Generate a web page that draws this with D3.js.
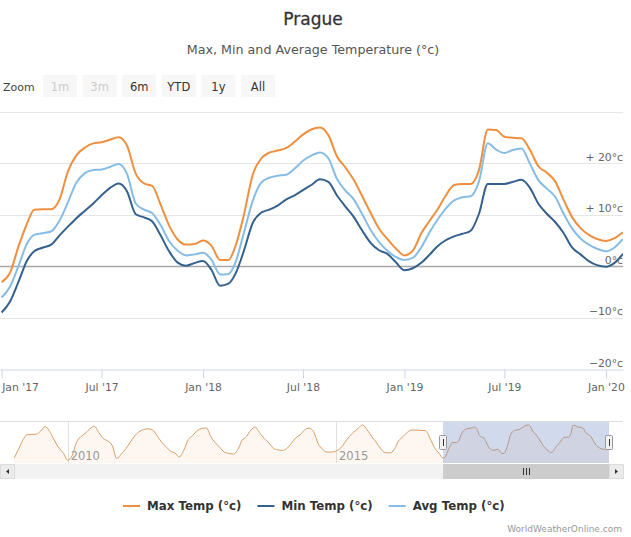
<!DOCTYPE html>
<html>
<head>
<meta charset="utf-8">
<script src="https://cdn.jsdelivr.net/npm/d3@7"></script>
<style>
  body { margin: 0; background: #fff; }
  svg { font-family: "DejaVu Sans", sans-serif; }
</style>
</head>
<body>
<script>
// half-monthly readings shown in the main chart
let dates = [
  '2017-01-01','2017-01-16','2017-02-01','2017-02-16','2017-03-01','2017-03-16','2017-04-01','2017-04-16',
  '2017-05-01','2017-05-16','2017-06-01','2017-06-16','2017-07-01','2017-07-16','2017-08-01','2017-08-16',
  '2017-09-01','2017-09-16','2017-10-01','2017-10-16','2017-11-01','2017-11-16','2017-12-01','2017-12-16',
  '2018-01-01','2018-01-16','2018-02-01','2018-02-16','2018-03-01','2018-03-16','2018-04-01','2018-04-16',
  '2018-05-01','2018-05-16','2018-06-01','2018-06-16','2018-07-01','2018-07-16','2018-08-01','2018-08-16',
  '2018-09-01','2018-09-16','2018-10-01','2018-10-16','2018-11-01','2018-11-16','2018-12-01','2018-12-16',
  '2019-01-01','2019-01-16','2019-02-01','2019-02-16','2019-03-01','2019-03-16','2019-04-01','2019-04-16',
  '2019-05-01','2019-05-16','2019-06-01','2019-06-16','2019-07-01','2019-07-16','2019-08-01','2019-08-16',
  '2019-09-01','2019-09-16','2019-10-01','2019-10-16','2019-11-01','2019-11-16','2019-12-01','2019-12-16',
  '2020-01-01','2020-01-16','2020-02-01'
];
let maxTemp = [
  -3.1, -1.3, 4.0, 8.3, 11.0, 11.1, 11.1, 13.0, 18.4, 21.5,
  23.1, 23.9, 24.1, 24.6, 25.1, 23.5, 18.0, 16.1, 15.6, 12.0,
  7.8, 5.2, 4.2, 4.3, 5.0, 4.0, 1.2, 1.2, 4.0, 10.0,
  17.8, 20.9, 22.1, 22.5, 23.0, 24.2, 25.6, 26.6, 27.0, 25.5,
  21.3, 19.2, 16.8, 13.7, 10.3, 7.3, 5.3, 3.5, 2.1, 3.0,
  6.5, 8.9, 10.9, 13.6, 15.8, 16.0, 16.0, 18.7, 26.6, 26.5,
  25.2, 25.0, 24.9, 22.7, 19.4, 18.2, 16.5, 13.0, 9.5, 7.4,
  6.1, 5.3, 4.9, 5.4, 6.6
];
let minTemp = [
  -9.0, -6.9, -2.9, 1.1, 2.9, 3.6, 4.2, 6.0, 7.7, 9.3,
  10.8, 12.2, 13.8, 15.2, 16.1, 14.6, 10.1, 9.5, 8.7, 6.0,
  2.8, 0.7, 0.1, 0.6, 1.0, -0.7, -3.8, -3.4, -1.4, 3.0,
  8.4, 10.4, 11.0, 11.8, 13.0, 13.8, 14.8, 15.8, 16.9, 16.4,
  13.7, 11.6, 9.6, 7.0, 4.5, 3.1, 2.4, 0.8, -0.8, -0.4,
  0.7, 2.3, 3.8, 5.0, 5.8, 6.3, 6.9, 10.2, 16.0, 16.0,
  16.0, 16.4, 16.8, 15.3, 12.1, 10.2, 8.6, 6.5, 3.6, 2.3,
  1.0, 0.2, -0.1, 0.6, 2.4
];
let avgTemp = [
  -6.1, -4.0, 0.2, 4.4, 6.1, 6.4, 6.8, 8.9, 12.4, 16.2,
  18.1, 18.7, 18.8, 19.3, 19.9, 18.0, 12.2, 11.0, 10.3, 8.0,
  4.8, 3.0, 2.1, 2.3, 2.6, 1.3, -1.6, -1.5, 0.8, 6.5,
  12.7, 16.2, 17.2, 17.6, 17.8, 19.0, 20.5, 21.5, 22.1, 21.0,
  16.9, 14.7, 13.0, 10.2, 7.0, 4.7, 3.0, 1.8, 1.2, 1.6,
  3.8, 6.7, 8.9, 11.1, 12.8, 13.4, 13.6, 16.5, 23.9, 22.7,
  22.0, 22.6, 22.9, 20.0, 16.7, 15.1, 13.5, 10.3, 7.3, 5.4,
  4.2, 3.4, 2.9, 3.6, 5.3
];

// monthly max temp before 2017, only seen in the navigator
let navYears = [2009, 2010, 2011, 2012, 2013, 2014, 2015, 2016];
let navMaxEarly = [
  [-3.0, 5.0, 13.0, 18.3, 18.4, 18.7, 21.5, 25.6, 21.0, 13.5, 6.5, 2.0],
  [-4.7, -0.5, 11.0, 16.5, 19.5, 23.5, 25.9, 20.2, 14.6, 12.5, 8.3, -3.3],
  [0.8, 5.6, 11.0, 17.0, 20.8, 23.0, 23.5, 22.6, 17.4, 11.7, 7.5, 3.3],
  [1.6, -2.0, 4.2, 13.8, 17.5, 22.0, 23.8, 24.4, 16.5, 11.0, 6.7, 2.5],
  [1.3, 0.8, 4.0, 13.0, 16.5, 22.5, 25.0, 19.5, 14.7, 10.8, 6.0, 4.5],
  [4.0, 5.8, 10.0, 15.2, 18.0, 22.5, 24.2, 21.0, 10.2, 5.0, 2.5, 2.5],
  [3.5, 6.0, 11.0, 16.5, 20.5, 24.0, 27.0, 22.5, 16.5, 11.5, 5.5, 2.0],
  [1.7, 4.8, 12.5, 16.5, 20.5, 22.5, 22.4, 22.1, 21.9, 15.0, 6.5, 1.5]
];

let xTicks = ['2017-01-01', '2017-07-01', '2018-01-01', '2018-07-01', '2019-01-01', '2019-07-01', '2020-01-01'];
let navTicks = ['2010-01-01', '2015-01-01'];
let yGrid = [-20, -10, 0, 10, 20, 30];
let yTicks = [-20, -10, 0, 10, 20];
let yTickLabels = ['\u221220°c', '\u221210°c', '0°c', '+ 10°c', '+ 20°c'];
let zoomButtons = ['1m', '3m', '6m', 'YTD', '1y', 'All'];
let disabledButtons = ['1m', '3m'];
let seriesNames = ['Max Temp (°c)', 'Min Temp (°c)', 'Avg Temp (°c)'];
let seriesColors = ['#ef8f3f', '#35618e', '#87bde5'];

let parse = d3.timeParse('%Y-%m-%d');
let plot = {left: 0, right: 623, top: 112, bottom: 369};
let nav = {left: 14, right: 609, top: 422, bottom: 463};
let range = [parse('2016-12-29'), parse('2020-02-01')];

let svg = d3.select('body').append('svg')
  .attr('width', 631)
  .attr('height', 537);

let x = d3.scaleTime().domain(range).range([plot.left, plot.right]);
let y = d3.scaleLinear().domain([-20, 30]).range([plot.bottom, plot.top]);

// titles
svg.append('text')
  .attr('x', 313).attr('y', 25)
  .attr('text-anchor', 'middle')
  .style('font-size', '17px').style('fill', '#333')
  .style('stroke', '#333').style('stroke-width', 0.3)
  .text('Prague');
svg.append('text')
  .attr('x', 313).attr('y', 54)
  .attr('text-anchor', 'middle')
  .style('font-size', '12.7px').style('fill', '#555')
  .text('Max, Min and Average Temperature (°c)');

// range selector
svg.append('text')
  .attr('x', 3).attr('y', 90.5)
  .style('font-size', '11px').style('fill', '#444')
  .text('Zoom');
let btn = svg.append('g').selectAll('g')
  .data(zoomButtons)
  .enter().append('g')
  .attr('transform', (d, i) => 'translate(' + (43 + i * 39.6) + ',75)');
btn.append('rect')
  .attr('width', 34).attr('height', 22)
  .attr('fill', '#f7f7f7');
btn.append('text')
  .attr('x', 17).attr('y', 15.5)
  .attr('text-anchor', 'middle')
  .style('font-size', '11.5px')
  .style('fill', d => disabledButtons.includes(d) ? '#ccc' : '#333')
  .text(d => d);

// grid
let g = svg.append('g');
g.append('g')
  .selectAll('line')
  .data(yGrid)
  .enter().append('line')
  .attr('x1', plot.left).attr('x2', plot.right)
  .attr('y1', d => Math.round(y(d)) + 0.5).attr('y2', d => Math.round(y(d)) + 0.5)
  .attr('stroke', d => d === 0 ? '#a8a8a8' : (d === -20 ? 'none' : '#e6e6e6'))
  .attr('stroke-width', d => d === 0 ? 1.5 : 1);

// x axis
let xAxis = g.append('g')
  .attr('transform', 'translate(0,' + (plot.bottom + 0.5) + ')')
  .call(d3.axisBottom(x)
    .tickValues(xTicks.map(parse))
    .tickFormat(d3.timeFormat("%b '%y"))
    .tickSize(9)
    .tickSizeOuter(0)
    .tickPadding(5));
xAxis.select('.domain').attr('stroke', '#ccd6eb');
xAxis.selectAll('.tick line').attr('stroke', '#ccd6eb');
xAxis.selectAll('.tick text')
  .style('font-size', '10.8px')
  .style('font-family', '"DejaVu Sans", sans-serif')
  .attr('fill', '#666');
xAxis.selectAll('.tick text').each(function () {
  let t = d3.select(this);
  let w = this.getComputedTextLength();
  let tx = +d3.select(this.parentNode).attr('transform').match(/translate\(([-\d.]+)/)[1];
  if (tx - w / 2 < 0) t.attr('text-anchor', 'start');
  if (tx + w / 2 > 625) t.attr('text-anchor', 'end').attr('x', 625 - tx);
});

// series
svg.append('clipPath').attr('id', 'plotclip')
  .append('rect')
  .attr('x', plot.left).attr('y', plot.top - 5)
  .attr('width', plot.right - plot.left).attr('height', plot.bottom - plot.top + 10);

let line = d3.line()
  .curve(d3.curveMonotoneX)
  .x(d => x(d.date))
  .y(d => y(d.value));

let seriesValues = [maxTemp, minTemp, avgTemp];
let trace = svg.append('g').attr('clip-path', 'url(#plotclip)');
seriesValues.forEach((vals, i) => {
  let pts = dates.map((d, j) => ({date: parse(d), value: vals[j]}));
  trace.append('path')
    .attr('d', line(pts))
    .attr('fill', 'none')
    .attr('stroke', seriesColors[i])
    .attr('stroke-width', 2)
    .attr('stroke-linejoin', 'round');
});

// y labels, inside the plot on the right
svg.append('g')
  .selectAll('text')
  .data(yTicks)
  .enter().append('text')
  .attr('x', 623).attr('y', d => y(d) - 2.5)
  .attr('text-anchor', 'end')
  .style('font-size', '10.8px').style('fill', '#666')
  .text((d, i) => yTickLabels[i]);

// navigator
let navData = [];
navYears.forEach((yr, i) => {
  navMaxEarly[i].forEach((v, m) => navData.push({date: new Date(yr, m, 1), value: v}));
});
dates.forEach((d, j) => navData.push({date: parse(d), value: maxTemp[j]}));

let nx = d3.scaleTime().domain([new Date(2009, 0, 1), range[1]]).range([nav.left, nav.right]);
let ny = d3.scaleLinear().domain(d3.extent(navData, d => d.value)).range([460, 425]);

let ng = svg.append('g');
ng.append('line')
  .attr('x1', 0).attr('x2', 623)
  .attr('y1', nav.top - 0.5).attr('y2', nav.top - 0.5)
  .attr('stroke', '#dcdcdc');
ng.selectAll('.navgrid')
  .data(navTicks)
  .enter().append('line')
  .attr('x1', d => Math.round(nx(parse(d))) + 0.5).attr('x2', d => Math.round(nx(parse(d))) + 0.5)
  .attr('y1', nav.top).attr('y2', nav.bottom)
  .attr('stroke', '#e0e0e0');

let navArea = d3.area()
  .curve(d3.curveMonotoneX)
  .x(d => nx(d.date))
  .y0(nav.bottom)
  .y1(d => ny(d.value));
let navLine = d3.line()
  .curve(d3.curveMonotoneX)
  .x(d => nx(d.date))
  .y(d => ny(d.value));

ng.append('path')
  .attr('d', navArea(navData))
  .attr('fill', 'rgba(245,160,90,0.09)');
ng.append('path')
  .attr('d', navLine(navData))
  .attr('fill', 'none')
  .attr('stroke', '#d99f66')
  .attr('stroke-width', 1);

ng.selectAll('.navlabel')
  .data(navTicks)
  .enter().append('text')
  .attr('x', d => nx(parse(d)) + 3).attr('y', 460)
  .style('font-size', '11.5px').style('fill', '#999')
  .text(d => d.slice(0, 4));

// selected range mask and handles
let m0 = nx(range[0]), m1 = nx(range[1]);
ng.append('rect')
  .attr('x', m0).attr('y', nav.top)
  .attr('width', m1 - m0).attr('height', nav.bottom - nav.top)
  .attr('fill', 'rgba(102,133,194,0.3)');
[m0, m1].forEach(hx => {
  ng.append('rect')
    .attr('x', Math.round(hx) - 3.5).attr('y', 435.5)
    .attr('width', 7).attr('height', 14).attr('rx', 1)
    .attr('fill', '#f2f2f2').attr('stroke', '#999');
  ng.append('line')
    .attr('x1', Math.round(hx) + 0.5).attr('x2', Math.round(hx) + 0.5)
    .attr('y1', 439).attr('y2', 446)
    .attr('stroke', '#333');
});

// scrollbar
let sb = svg.append('g').attr('transform', 'translate(0,464)');
sb.append('rect')
  .attr('x', 0).attr('y', 0).attr('width', 623).attr('height', 15)
  .attr('fill', '#f2f2f2');
sb.append('rect')
  .attr('x', m0).attr('y', 0).attr('width', m1 - m0).attr('height', 15)
  .attr('fill', '#cccccc');
let gx = Math.round((m0 + m1) / 2);
[-3, 0, 3].forEach(o => {
  sb.append('line')
    .attr('x1', gx + o + 0.5).attr('x2', gx + o + 0.5)
    .attr('y1', 4).attr('y2', 11)
    .attr('stroke', '#333');
});
[[0, -1], [nav.right, 1]].forEach(([bx, dir]) => {
  sb.append('rect')
    .attr('x', bx + 0.5).attr('y', 0.5).attr('width', 14).attr('height', 14)
    .attr('fill', '#ebebeb').attr('stroke', '#dddddd');
  let cx = bx + 7.5;
  sb.append('path')
    .attr('d', dir < 0
      ? 'M' + (cx + 1.5) + ',5 L' + (cx - 1.5) + ',7.5 L' + (cx + 1.5) + ',10 Z'
      : 'M' + (cx - 1.5) + ',5 L' + (cx + 1.5) + ',7.5 L' + (cx - 1.5) + ',10 Z')
    .attr('fill', '#333');
});

// legend
let legend = svg.append('g');
let lx = 0;
seriesNames.forEach((name, i) => {
  let item = legend.append('g').attr('transform', 'translate(' + lx + ',0)');
  item.append('line')
    .attr('x1', 0).attr('x2', 17)
    .attr('y1', 506).attr('y2', 506)
    .attr('stroke', seriesColors[i]).attr('stroke-width', 2);
  let t = item.append('text')
    .attr('x', 24).attr('y', 510)
    .style('font-size', '11.8px').style('font-weight', 'bold').style('fill', '#333')
    .text(name);
  lx += 24 + t.node().getComputedTextLength() + 16;
});
let legendWidth = lx - 16;
legend.attr('transform', 'translate(' + (123 - 0) + ',0)');

// credit
svg.append('text')
  .attr('x', 622).attr('y', 532)
  .attr('text-anchor', 'end')
  .style('font-size', '9px').style('fill', '#999')
  .text('WorldWeatherOnline.com');
</script>
</body>
</html>
